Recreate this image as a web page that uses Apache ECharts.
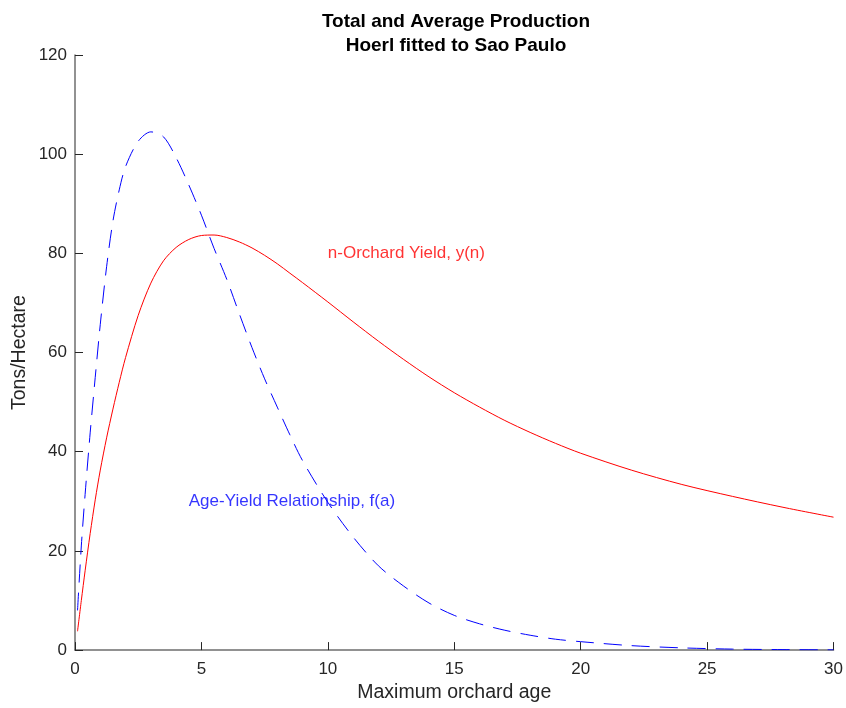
<!DOCTYPE html>
<html>
<head>
<meta charset="utf-8">
<script src="https://cdn.jsdelivr.net/npm/echarts@6/dist/echarts.min.js"></script>
<style>
  html, body { margin: 0; padding: 0; background: #fff; }
  #chart { width: 846px; height: 708px; }
</style>
</head>
<body>
<div id="chart"></div>
<script>
var ages = [0.1, 0.25, 0.4, 0.6, 0.8, 1, 1.25, 1.5, 1.75, 2, 2.5, 3, 3.5, 4, 4.5, 5, 5.5, 6, 6.5, 7, 7.5, 8, 8.5, 9,
            10, 11, 12, 13, 14, 15, 16, 17, 18, 19, 20, 22, 24, 26, 28, 30];
// f(a), age-yield relationship (dashed blue)
var ageYield = [8, 21, 31.4, 43.8, 55, 65.7, 77.3, 86.5, 92.8, 97.5, 102.6, 104.5, 103.5, 99.3, 93.8, 87.7, 81, 74.8, 67.8, 61, 54.7, 49, 43.4, 38.2,
                29.8, 22.8, 17, 12.9, 9.5, 7.0, 5.3, 4.0, 3.0, 2.2, 1.7, 0.9, 0.45, 0.2, 0.1, 0.05];
// y(n), n-orchard yield (solid red)
var orchardYield = [3.8, 10, 16, 23.5, 30.3, 36.3, 42.8, 48.6, 54, 59, 67.5, 74, 78.5, 81.2, 82.8, 83.6, 83.7, 83.2, 82.3, 81.1, 79.6, 77.9, 76, 74.1,
                    70.2, 66.2, 62.3, 58.6, 55.1, 51.9, 49, 46.3, 43.9, 41.7, 39.7, 36.3, 33.4, 31, 28.8, 26.8];

var xTicks = [0, 5, 10, 15, 20, 25, 30];
var yTicks = [0, 20, 40, 60, 80, 100, 120];

// text annotations [x, y, text]
var redNote = [10, 80, 'n-Orchard Yield, y(n)'];
var blueNote = [4.5, 30, 'Age-Yield Relationship, f(a)'];

function pairs(xs, ys) {
  var out = [];
  for (var i = 0; i < xs.length; i++) out.push([xs[i], ys[i]]);
  return out;
}

var font = '"Liberation Sans", Arial, Helvetica, sans-serif';
var axisColor = '#262626';

var chart = echarts.init(document.getElementById('chart'), null, { renderer: 'canvas' });
chart.setOption({
  animation: false,
  backgroundColor: '#ffffff',
  title: {
    text: 'Total and Average Production\nHoerl fitted to Sao Paulo',
    left: 451, top: 5, textAlign: 'center',
    textStyle: { fontFamily: font, fontSize: 19, fontWeight: 'bold', color: '#000', lineHeight: 24 }
  },
  grid: { left: 75, right: 12, top: 55, bottom: 55.5 },
  xAxis: {
    type: 'value',
    min: xTicks[0], max: xTicks[xTicks.length - 1], interval: 5,
    name: 'Maximum orchard age',
    nameLocation: 'middle', nameGap: 30,
    nameTextStyle: { fontFamily: font, fontSize: 19.5, color: axisColor },
    axisLine: { show: true, lineStyle: { color: '#6e6e6e', width: 1.5 } },
    axisTick: { show: true, inside: true, length: 8, lineStyle: { color: axisColor } },
    axisLabel: { fontFamily: font, fontSize: 17, color: axisColor, margin: 11 },
    splitLine: { show: false }
  },
  yAxis: {
    type: 'value',
    min: yTicks[0], max: yTicks[yTicks.length - 1], interval: 20,
    name: 'Tons/Hectare',
    nameLocation: 'middle', nameGap: 45, nameRotate: 90,
    nameMoveOverlap: false,
    nameTextStyle: { fontFamily: font, fontSize: 19.5, color: axisColor },
    axisLine: { show: true, lineStyle: { color: '#6e6e6e', width: 1.5 } },
    axisTick: { show: true, inside: true, length: 8, lineStyle: { color: axisColor } },
    axisLabel: { fontFamily: font, fontSize: 17, color: axisColor, margin: 8 },
    splitLine: { show: false }
  },
  series: [
    {
      name: 'f(a)',
      type: 'line',
      data: pairs(ages, ageYield),
      showSymbol: false,
      smooth: 0.3,
      lineStyle: { color: '#0000ff', width: 1, type: [18, 10] },
      z: 3
    },
    {
      name: 'y(n)',
      type: 'line',
      data: pairs(ages, orchardYield),
      showSymbol: false,
      smooth: 0.3,
      lineStyle: { color: '#ff0000', width: 1 },
      z: 4
    },
    {
      // labels placed in data coordinates
      type: 'scatter',
      symbolSize: 0,
      silent: true,
      data: [
        { value: [redNote[0], redNote[1]], label: { formatter: redNote[2], color: '#ff0000' } },
        { value: [blueNote[0], blueNote[1]], label: { formatter: blueNote[2], color: '#0000ff' } }
      ],
      label: { show: true, position: 'right', distance: 0, fontFamily: font, fontSize: 17 },
      z: 5
    }
  ]
});
</script>
</body>
</html>
